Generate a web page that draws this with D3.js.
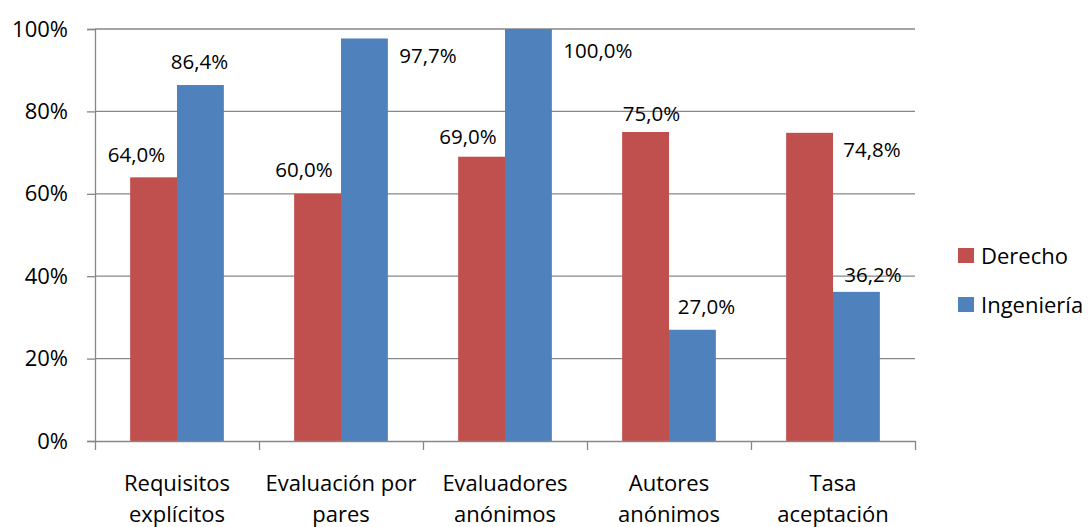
<!DOCTYPE html>
<html>
<head>
<meta charset="utf-8">
<script src="https://cdn.jsdelivr.net/npm/d3@7"></script>
<style>
  body { margin: 0; background: #fff; }
  svg { font-family: "Open Sans", "Noto Sans", sans-serif; }
</style>
</head>
<body>
<svg id="chart" width="1090" height="527"></svg>
<script>
// data
var categories = [["Requisitos", "explícitos"], ["Evaluación por", "pares"], ["Evaluadores", "anónimos"], ["Autores", "anónimos"], ["Tasa", "aceptación"]];
var seriesNames = ["Derecho", "Ingeniería"];
var derecho = [64.0, 60.0, 69.0, 75.0, 74.8];
var ingenieria = [86.4, 97.7, 100.0, 27.0, 36.2];
var yTicks = [0, 20, 40, 60, 80, 100];

// label nudges (Excel labels were dragged by hand), [dx, dy] from bar top centre
var labelNudge = [
    [[-17, -15], [-13.5, -17], [-13.5, -13], [6, -11], [62.5, 24]],
    [[-1, -16], [63.5, 24.5], [69.5, 29], [14, -16], [16.5, -10]]
];
var colors = ["#C0504D", "#4F81BD"];

var margin = { top: 29, left: 95 },
    w = 820,
    h = 412;

var svg = d3.select("#chart");
var g = svg.append("g").attr("transform", `translate(${margin.left}, ${margin.top})`);

var x0 = d3.scaleBand().domain(d3.range(categories.length)).range([0, w]).paddingInner(0).paddingOuter(0);
var x1 = d3.scaleBand().domain(d3.range(seriesNames.length)).range([0, x0.bandwidth()]).paddingInner(0).paddingOuter(0.75);
var y = d3.scaleLinear().domain([0, 100]).range([h, 0]);

var axisColor = "#878787";

// gridlines
g.selectAll(".grid").data(yTicks.filter(d => d > 0)).join("line")
    .attr("class", "grid")
    .attr("x1", 0).attr("x2", w)
    .attr("y1", d => y(d)).attr("y2", d => y(d))
    .attr("stroke", axisColor).attr("stroke-width", 1.3);

// y axis
var yAxis = g.append("g").call(d3.axisLeft(y).tickValues(yTicks).tickSize(8).tickFormat(d => d + "%"));
yAxis.select(".domain").attr("stroke", axisColor).attr("stroke-width", 1.3);
yAxis.selectAll(".tick line").attr("stroke", axisColor).attr("stroke-width", 1.3);
yAxis.selectAll(".tick text").attr("x", -27).attr("fill", "#000").style("font-size", "22px").style("font-family", "Open Sans");

// bars
var series = [derecho, ingenieria];
series.forEach(function (vals, si) {
    g.selectAll(".bar" + si).data(vals).join("rect")
        .attr("class", "bar" + si)
        .attr("x", (d, i) => x0(i) + x1(si))
        .attr("width", x1.bandwidth())
        .attr("y", d => y(d))
        .attr("height", d => h - y(d))
        .attr("fill", colors[si]);

    g.selectAll(".lab" + si).data(vals).join("text")
        .attr("class", "lab" + si)
        .attr("x", (d, i) => x0(i) + x1(si) + x1.bandwidth() / 2 + labelNudge[si][i][0])
        .attr("y", (d, i) => y(d) + labelNudge[si][i][1])
        .attr("text-anchor", "middle")
        .style("font-size", "20.5px")
        .text(d => d.toFixed(1).replace(".", ",") + "%");
});

// x axis
var xAxisScale = d3.scaleLinear().domain([0, categories.length]).range([0, w]);
var xAxis = g.append("g").attr("transform", `translate(0, ${h})`)
    .call(d3.axisBottom(xAxisScale).tickValues(d3.range(categories.length + 1)).tickSize(9).tickSizeOuter(0).tickFormat(""));
xAxis.select(".domain").attr("stroke", axisColor).attr("stroke-width", 1.3);
xAxis.selectAll(".tick line").attr("stroke", axisColor).attr("stroke-width", 1.3);

// category labels
var catText = g.selectAll(".cat").data(categories).join("text")
    .attr("class", "cat")
    .attr("x", (d, i) => x0(i) + x0.bandwidth() / 2)
    .attr("y", h + 50)
    .attr("text-anchor", "middle")
    .style("font-size", "22px");
catText.selectAll("tspan").data(d => d).join("tspan")
    .attr("x", function () { return d3.select(this.parentNode).attr("x"); })
    .attr("dy", (d, i) => i === 0 ? 0 : 31)
    .text(d => d);

// legend
var legend = svg.append("g").attr("transform", "translate(958, 248)");
seriesNames.forEach(function (name, i) {
    legend.append("rect").attr("x", 0).attr("y", i * 49).attr("width", 16).attr("height", 15).attr("fill", colors[i]);
    legend.append("text").attr("x", 23).attr("y", i * 49 + 15.5).style("font-size", "22px").text(name);
});
</script>
</body>
</html>
